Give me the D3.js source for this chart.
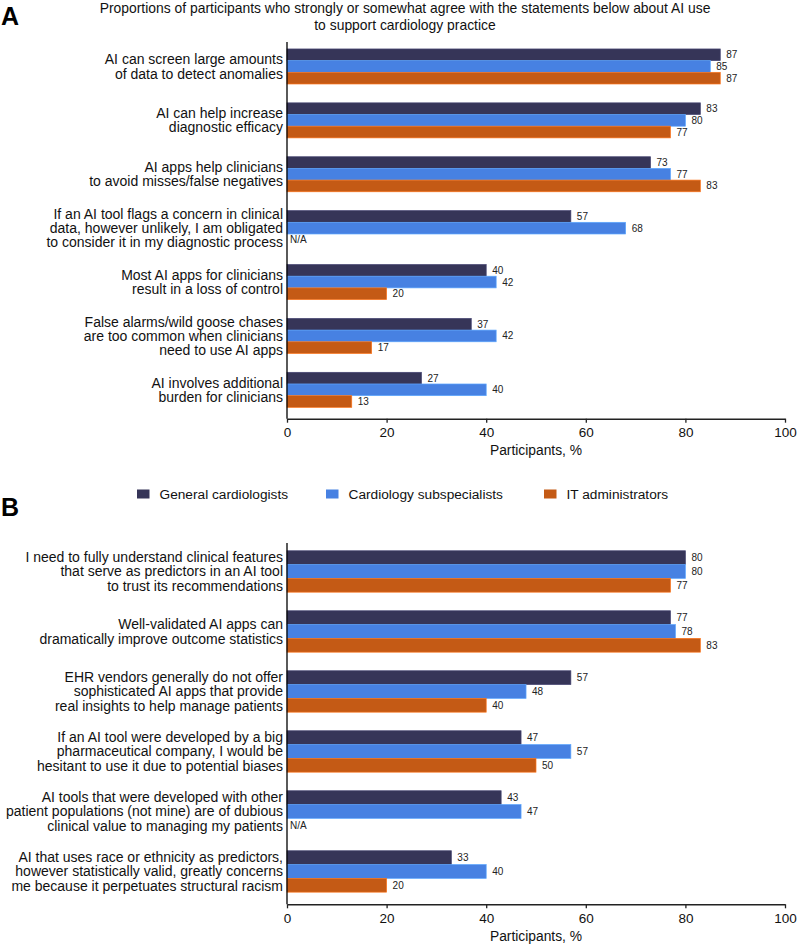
<!DOCTYPE html>
<html>
<head>
<meta charset="utf-8">
<script src="https://cdn.jsdelivr.net/npm/d3@7"></script>
<style>
  html, body { margin: 0; padding: 0; background: #fff; }
  svg { display: block; font-family: "Liberation Sans", Arial, Helvetica, sans-serif; }
</style>
</head>
<body>
<svg id="chart" width="797" height="947"></svg>
<script>
// ---------------- DATA ----------------
const seriesNames = ["General cardiologists", "Cardiology subspecialists", "IT administrators"];
const seriesColors = ["#363558", "#4781e2", "#c45a15"];

const titleLines = [
  "Proportions of participants who strongly or somewhat agree with the statements below about AI use",
  "to support cardiology practice"
];

const categoriesA = [
  ["AI can screen large amounts", "of data to detect anomalies"],
  ["AI can help increase", "diagnostic efficacy"],
  ["AI apps help clinicians", "to avoid misses/false negatives"],
  ["If an AI tool flags a concern in clinical", "data, however unlikely, I am obligated", "to consider it in my diagnostic process"],
  ["Most AI apps for clinicians", "result in a loss of control"],
  ["False alarms/wild goose chases", "are too common when clinicians", "need to use AI apps"],
  ["AI involves additional", "burden for clinicians"]
];
const generalA    = [87, 83, 73, 57, 40, 37, 27];
const subspecA    = [85, 80, 77, 68, 42, 42, 40];
const itAdminA    = [87, 77, 83, null, 20, 17, 13];

const categoriesB = [
  ["I need to fully understand clinical features", "that serve as predictors in an AI tool", "to trust its recommendations"],
  ["Well-validated AI apps can", "dramatically improve outcome statistics"],
  ["EHR vendors generally do not offer", "sophisticated AI apps that provide", "real insights to help manage patients"],
  ["If an AI tool were developed by a big", "pharmaceutical company, I would be", "hesitant to use it due to potential biases"],
  ["AI tools that were developed with other", "patient populations (not mine) are of dubious", "clinical value to managing my patients"],
  ["AI that uses race or ethnicity as predictors,", "however statistically valid, greatly concerns", "me because it perpetuates structural racism"]
];
const generalB    = [80, 77, 57, 47, 43, 33];
const subspecB    = [80, 78, 48, 57, 47, 40];
const itAdminB    = [77, 83, 40, 50, null, 20];

const xTicks = [0, 20, 40, 60, 80, 100];
const xLabel = "Participants, %";
const naLabel = "N/A";

// ---------------- DRAW ----------------
const svg = d3.select("#chart");
const FONT = 14;

const x = d3.scaleLinear().domain([0, 100]).range([287, 785]);

// Title
svg.append("g").selectAll("text").data(titleLines).join("text")
  .attr("x", 405).attr("y", (d, i) => 8 + i * 16.5)
  .attr("text-anchor", "middle").attr("dominant-baseline", "central")
  .attr("font-size", 13.9).attr("fill", "#111").text(d => d);

function panel(cfg) {
  const { cats, vals, top, bottom, pInner, pOuter, align, letter, letterY } = cfg;
  const g = svg.append("g");
  const idx = d3.range(cats.length);
  const y = d3.scaleBand().domain(idx).range([top, bottom])
    .paddingInner(pInner).paddingOuter(pOuter).align(align);
  const ySub = d3.scaleBand().domain(d3.range(seriesNames.length)).range([0, y.bandwidth()]);

  // panel letter
  g.append("text").attr("x", 1).attr("y", letterY)
    .attr("dominant-baseline", "central")
    .attr("font-size", 25).attr("font-weight", "bold").attr("fill", "#000").text(letter);

  // bars
  const rows = [];
  idx.forEach(i => seriesNames.forEach((s, j) => rows.push({ i, j, v: vals[j][i] })));
  g.append("g").selectAll("rect").data(rows.filter(r => r.v != null)).join("rect")
    .attr("x", x(0))
    .attr("y", r => y(r.i) + ySub(r.j))
    .attr("width", r => x(r.v) - x(0))
    .attr("height", ySub.bandwidth())
    .attr("fill", r => seriesColors[r.j])
    .attr("stroke", r => d3.color(seriesColors[r.j]).brighter(0.7))
    .attr("stroke-width", 0.7);

  // value labels
  g.append("g").selectAll("text").data(rows).join("text")
    .attr("x", r => r.v == null ? x(0) + 3 : x(r.v) + 6)
    .attr("y", r => y(r.i) + ySub(r.j) + ySub.bandwidth() / 2)
    .attr("dominant-baseline", "central")
    .attr("font-size", 10).attr("fill", "#222")
    .text(r => r.v == null ? naLabel : r.v);

  // category labels
  const lh = 14.2;
  g.append("g").selectAll("text").data(idx).join("text")
    .attr("text-anchor", "end")
    .attr("font-size", FONT).attr("fill", "#111")
    .each(function (i) {
      const lines = cats[i];
      const cy = y(i) + y.bandwidth() / 2;
      d3.select(this).selectAll("tspan").data(lines).join("tspan")
        .attr("x", 283)
        .attr("y", (d, k) => cy + (k - (lines.length - 1) / 2) * lh)
        .attr("dominant-baseline", "central")
        .text(d => d);
    });

  // y axis line
  g.append("line").attr("x1", x(0)).attr("x2", x(0))
    .attr("y1", top).attr("y2", bottom)
    .attr("stroke", "#000").attr("stroke-width", 1.3);

  // x axis
  const ax = g.append("g").attr("transform", `translate(0,${bottom})`)
    .call(d3.axisBottom(x).tickValues(xTicks).tickSize(4).tickSizeOuter(0).tickPadding(5));
  ax.select(".domain").attr("stroke", "#222").attr("stroke-width", 1.4);
  ax.selectAll(".tick line").attr("stroke", "#222").attr("stroke-width", 1.3);
  ax.selectAll(".tick text").attr("font-size", 13.5).attr("fill", "#111")
    .attr("font-family", "'Liberation Sans', Arial, sans-serif");

  g.append("text").attr("x", (x(0) + x(100)) / 2).attr("y", bottom + 32)
    .attr("text-anchor", "middle").attr("dominant-baseline", "central")
    .attr("font-size", 13.8).attr("fill", "#111").text(xLabel);
}

panel({
  cats: categoriesA, vals: [generalA, subspecA, itAdminA],
  top: 42, bottom: 418.7, pInner: 0.35, pOuter: 0.17, align: 0.38,
  letter: "A", letterY: 16
});

// Legend
const legendX = [137, 326, 544];
const lg = svg.append("g").selectAll("g").data(seriesNames).join("g")
  .attr("transform", (d, i) => `translate(${legendX[i]},494)`);
lg.append("rect").attr("x", 0).attr("y", -4.5).attr("width", 12.5).attr("height", 9)
  .attr("fill", (d, i) => seriesColors[i]);
lg.append("text").attr("x", 22.5).attr("y", 0).attr("dominant-baseline", "central")
  .attr("font-size", 13.7).attr("fill", "#111").text(d => d);

panel({
  cats: categoriesB, vals: [generalB, subspecB, itAdminB],
  top: 543, bottom: 904.3, pInner: 0.31, pOuter: 0.166, align: 0.39,
  letter: "B", letterY: 507
});
</script>
</body>
</html>
